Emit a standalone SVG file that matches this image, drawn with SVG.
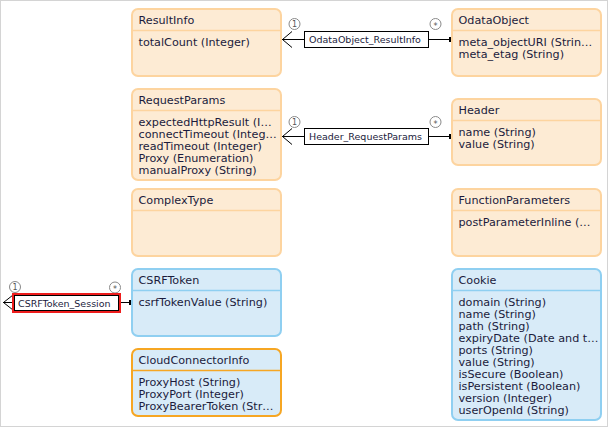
<svg xmlns="http://www.w3.org/2000/svg" width="609" height="428" viewBox="0 0 609 428">
<style>
  .t{font-family:"DejaVu Sans",Verdana,sans-serif;font-size:11.2px;fill:#1b1b3c}
  .lbl{font-family:"DejaVu Sans",Verdana,sans-serif;font-size:9.5px;fill:#1b1b3c}
  .num{font-family:"DejaVu Sans",Verdana,sans-serif;font-size:8px;fill:#555;text-anchor:middle}
  .o{fill:#fdebd4;stroke:#fdd49f;stroke-width:2}
  .od{stroke:#fdd49f;stroke-width:1.5}
  .b{fill:#d8ebf8;stroke:#8fcff1;stroke-width:2}
  .bd{stroke:#8fcff1;stroke-width:1.5}
  .bo{fill:#d8ebf8;stroke:#f6a623;stroke-width:2}
  .bod{stroke:#f6a623;stroke-width:1.5}
  .ln{stroke:#000;stroke-width:1;fill:none}
  .c{fill:#fff;stroke:#8a8a8a;stroke-width:1}
</style>
<rect x="0.5" y="0.5" width="607" height="426" fill="#fff" stroke="#d4d4d4"/>

<g id="ResultInfo">
  <rect class="o" x="132" y="9" width="149" height="67" rx="6"/>
  <line class="od" x1="132" y1="30.5" x2="281" y2="30.5"/>
  <text class="t" x="138.5" y="24">ResultInfo</text>
  <text class="t" x="138.5" y="46">totalCount (Integer)</text>
</g>
<g id="RequestParams">
  <rect class="o" x="132" y="89" width="149" height="91" rx="6"/>
  <line class="od" x1="132" y1="110.5" x2="281" y2="110.5"/>
  <text class="t" x="138.5" y="104">RequestParams</text>
  <text class="t" x="138.5" y="125.5">expectedHttpResult (I…</text>
  <text class="t" x="138.5" y="137.5">connectTimeout (Integ…</text>
  <text class="t" x="138.5" y="149.5">readTimeout (Integer)</text>
  <text class="t" x="138.5" y="161.5">Proxy (Enumeration)</text>
  <text class="t" x="138.5" y="173.5">manualProxy (String)</text>
</g>
<g id="ComplexType">
  <rect class="o" x="132" y="189" width="149" height="67" rx="6"/>
  <line class="od" x1="132" y1="210.5" x2="281" y2="210.5"/>
  <text class="t" x="138.5" y="204">ComplexType</text>
</g>
<g id="CSRFToken">
  <rect class="b" x="132" y="269" width="149" height="67" rx="6"/>
  <line class="bd" x1="132" y1="290.5" x2="281" y2="290.5"/>
  <text class="t" x="138.5" y="284">CSRFToken</text>
  <text class="t" x="138.5" y="305.5">csrfTokenValue (String)</text>
</g>
<g id="CloudConnectorInfo">
  <rect class="bo" x="132" y="349" width="149" height="67" rx="6"/>
  <line class="bod" x1="132" y1="370.5" x2="281" y2="370.5"/>
  <text class="t" x="138.5" y="364">CloudConnectorInfo</text>
  <text class="t" x="138.5" y="385.5">ProxyHost (String)</text>
  <text class="t" x="138.5" y="397.5">ProxyPort (Integer)</text>
  <text class="t" x="138.5" y="409.5">ProxyBearerToken (Str…</text>
</g>
<g id="OdataObject">
  <rect class="o" x="452" y="9" width="149" height="67" rx="6"/>
  <line class="od" x1="452" y1="30.5" x2="601" y2="30.5"/>
  <text class="t" x="458.5" y="24">OdataObject</text>
  <text class="t" x="458.5" y="46">meta_objectURI (Strin…</text>
  <text class="t" x="458.5" y="58">meta_etag (String)</text>
</g>
<g id="Header">
  <rect class="o" x="452" y="99" width="149" height="66" rx="6"/>
  <line class="od" x1="452" y1="120.5" x2="601" y2="120.5"/>
  <text class="t" x="458.5" y="114">Header</text>
  <text class="t" x="458.5" y="135.5">name (String)</text>
  <text class="t" x="458.5" y="147.5">value (String)</text>
</g>
<g id="FunctionParameters">
  <rect class="o" x="452" y="189" width="149" height="67" rx="6"/>
  <line class="od" x1="452" y1="210.5" x2="601" y2="210.5"/>
  <text class="t" x="458.5" y="204">FunctionParameters</text>
  <text class="t" x="458.5" y="225.5">postParameterInline (…</text>
</g>
<g id="Cookie">
  <rect class="b" x="452" y="269" width="149" height="151" rx="6"/>
  <line class="bd" x1="452" y1="290.5" x2="601" y2="290.5"/>
  <text class="t" x="458.5" y="284">Cookie</text>
  <text class="t" x="458.5" y="305.5">domain (String)</text>
  <text class="t" x="458.5" y="317.5">name (String)</text>
  <text class="t" x="458.5" y="329.5">path (String)</text>
  <text class="t" x="458.5" y="341.5">expiryDate (Date and t…</text>
  <text class="t" x="458.5" y="353.5">ports (String)</text>
  <text class="t" x="458.5" y="365.5">value (String)</text>
  <text class="t" x="458.5" y="377.5">isSecure (Boolean)</text>
  <text class="t" x="458.5" y="389.5">isPersistent (Boolean)</text>
  <text class="t" x="458.5" y="401.5">version (Integer)</text>
  <text class="t" x="458.5" y="413.5">userOpenId (String)</text>
</g>

<g id="connectors">
  <!-- OdataObject_ResultInfo -->
  <line class="ln" x1="282" y1="39.5" x2="450" y2="39.5"/>
  <polyline class="ln" points="292,31.5 282.5,39.5 292,47.5"/>
  <rect x="449" y="37" width="2" height="5" fill="#000"/>
  <circle class="c" cx="294.5" cy="24" r="5.5"/>
  <text class="num" x="294.5" y="27">1</text>
  <circle class="c" cx="435.5" cy="24" r="5.5"/>
  <text class="num" x="435.5" y="28.5" font-size="10">*</text>
  <rect x="304.5" y="31.5" width="124" height="16" fill="#fff" stroke="#000"/>
  <text class="lbl" x="309" y="43">OdataObject_ResultInfo</text>

  <!-- Header_RequestParams -->
  <line class="ln" x1="282" y1="136.5" x2="450" y2="136.5"/>
  <polyline class="ln" points="292,128.5 282.5,136.5 292,144.5"/>
  <rect x="449" y="134" width="2" height="5" fill="#000"/>
  <circle class="c" cx="294.5" cy="122" r="5.5"/>
  <text class="num" x="294.5" y="125">1</text>
  <circle class="c" cx="435.5" cy="122" r="5.5"/>
  <text class="num" x="435.5" y="126.5" font-size="10">*</text>
  <rect x="304.5" y="128.5" width="124" height="16" fill="#fff" stroke="#000"/>
  <text class="lbl" x="309" y="140">Header_RequestParams</text>

  <!-- CSRFToken_Session -->
  <line class="ln" x1="3" y1="302.5" x2="130" y2="302.5"/>
  <polyline class="ln" points="13,295 3.5,302.5 13,310"/>
  <rect x="129" y="300" width="2" height="5" fill="#000"/>
  <circle class="c" cx="15" cy="287" r="5.5"/>
  <text class="num" x="15" y="290">1</text>
  <circle class="c" cx="115" cy="287.5" r="5.5"/>
  <text class="num" x="115" y="292" font-size="10">*</text>
  <rect x="13" y="294" width="107" height="18" fill="#fff" stroke="#ee1c1c" stroke-width="2"/>
  <rect x="14.5" y="295.5" width="104" height="15" fill="none" stroke="#000"/>
  <text class="lbl" x="18" y="306.5">CSRFToken_Session</text>
</g>
</svg>
